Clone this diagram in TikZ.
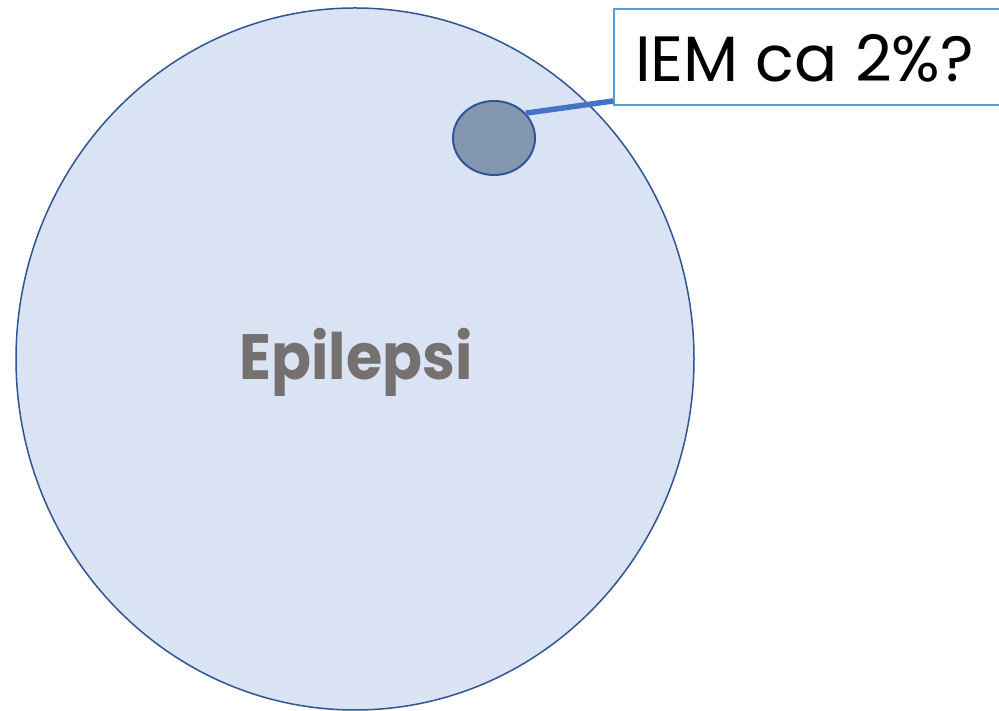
\documentclass[tikz,border=0pt]{standalone}
\usepackage{fontspec}
\usetikzlibrary{shapes.geometric}
\newfontfamily\gothic{Poppins}
\definecolor{setfill}{HTML}{DAE3F3}
\definecolor{setline}{HTML}{2F5597}
\definecolor{subfill}{HTML}{8497B0}
\definecolor{calloutline}{HTML}{5B9BD5}
\definecolor{leaderline}{HTML}{4472C4}
\definecolor{setname}{HTML}{767171}
\tikzset{
	set/.style={ellipse,draw=setline,fill=setfill,line width=1.5pt,inner sep=0pt},
	subset/.style={ellipse,draw=setline,fill=subfill,line width=2pt,inner sep=0pt},
	callout/.style={rectangle,draw=calloutline,fill=white,line width=2pt,inner sep=0pt}
}
\begin{document}
\begin{tikzpicture}[x=1pt,y=1pt]
		\useasboundingbox (0,0) rectangle (999,711);
		% whole set and the small part inside it
		\node[set,minimum width=678pt,minimum height=702pt] (epi) at (355,352) {};
		\node[subset,minimum width=82pt,minimum height=74pt] (iem) at (494,573) {};
		\node[font=\gothic\bfseries\fontsize{64}{64}\selectfont,text=setname,xscale=0.92,transform shape] (epiname) at (356,349) {Epilepsi};
		% callout box, runs off the right edge
		\node[callout,anchor=north west,minimum width=430pt,minimum height=96pt] (box) at (613,703) {};
		\node[font=\gothic\fontsize{64}{64}\selectfont,anchor=base west,inner sep=0pt] (boxtext) at (635,629) {IEM ca 2\%?};
		\coordinate (boxfoot) at ([yshift=5pt]box.south west);
		\draw[leaderline,line width=5.5pt] (iem.38) -- (boxfoot);
	\end{tikzpicture}
\end{document}
